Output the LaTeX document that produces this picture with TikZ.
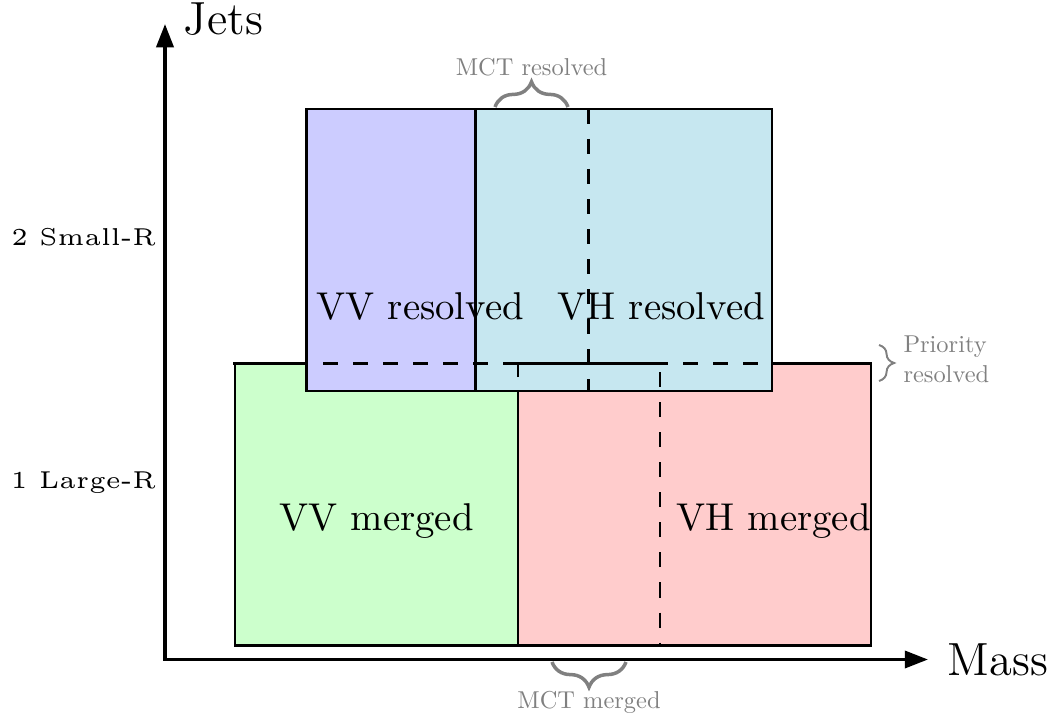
\documentclass[tikz,border=0pt]{standalone}
\usetikzlibrary{arrows.meta,decorations.pathreplacing}

\definecolor{vvres}{RGB}{204,204,255}
\definecolor{vhres}{RGB}{198,231,240}
\definecolor{vvmer}{RGB}{204,255,204}
\definecolor{vhmer}{RGB}{255,204,204}
\definecolor{notegray}{RGB}{128,128,128}

\begin{document}
\begin{tikzpicture}[x=0.258pt,y=-0.258pt,
  region/.style={draw=black,line width=0.55pt},
  cut/.style={line width=0.55pt,dash pattern=on 3.87pt off 3.87pt},
  axisline/.style={line width=0.9pt,line join=miter,
    {Triangle[length=6pt,width=4.4pt]}-{Triangle[length=6pt,width=4.4pt]}},
  lbl/.style={inner sep=0pt},
  ticklbl/.style={inner sep=0pt,font=\tiny,scale=1.26},
  note/.style={inner sep=0pt,text=notegray,scale=0.63},
  mctbrace/.style={decorate,decoration={brace,amplitude=6.5pt},
    draw=notegray,line width=0.9pt},
  prio/.style={decorate,decoration={brace,amplitude=3.9pt},
    draw=notegray,line width=0.5pt},
]
\useasboundingbox (0,0) rectangle (1051,714);

% merged regions (one large-R jet)
\draw[region,fill=vvmer] (235,363.5) rectangle (518,645.5);
\draw[region,fill=vhmer] (518,363.5) rectangle (871,645.5);

% resolved regions (two small-R jets)
\draw[region,fill=vvres] (306.5,109) rectangle (475.5,391);
\draw[region,fill=vhres] (475.5,109) rectangle (772,391);

% region boundaries
\draw[cut] (233,363.5) -- (871,363.5);
\draw[line width=0.55pt] (518,377) -- (518,363.5) -- (667,363.5);
\draw[cut] (588.5,109) -- (588.5,391);
\draw[cut,dash phase=5.42pt] (660,363.5) -- (660,645.5);

% axes
\coordinate (origin) at (165,659.5);
\coordinate (ytip) at (165,24);
\coordinate (xtip) at (928,659.5);
\draw[axisline] (ytip) -- (origin) -- (xtip);

\node[lbl,anchor=base west,font=\large] (jets) at (183,35) {Jets};
\node[lbl,anchor=base west,font=\large] (mass) at (947,675) {Mass};
\node[ticklbl,anchor=base east] (small) at (157,245) {2 Small-R};
\node[ticklbl,anchor=base east] (large) at (157,488) {1 Large-R};

% region names
\node[lbl,anchor=base west] (vvr) at (316,320) {VV resolved};
\node[lbl,anchor=base west] (vhr) at (557,320) {VH resolved};
\node[lbl,anchor=base west] (vvm) at (279,530) {VV merged};
\node[lbl,anchor=base west] (vhm) at (676,530) {VH merged};

% annotations
\coordinate (rb1) at (495,107);
\coordinate (rb2) at (568,107);
\draw[mctbrace] (rb1) -- (rb2);
\node[note,anchor=base] (mctres) at (531.5,76) {MCT resolved};

\coordinate (mb1) at (626,662);
\coordinate (mb2) at (552,662);
\draw[mctbrace] (mb1) -- (mb2);
\node[note,anchor=base] (mctmer) at (589,708) {MCT merged};

\coordinate (pb1) at (879,345);
\coordinate (pb2) at (879,381);
\draw[prio] (pb1) -- (pb2);
\node[note,anchor=base west] (prio1) at (903,353) {Priority};
\node[note,anchor=base west] (prio2) at (903,383) {resolved};
\end{tikzpicture}
\end{document}
